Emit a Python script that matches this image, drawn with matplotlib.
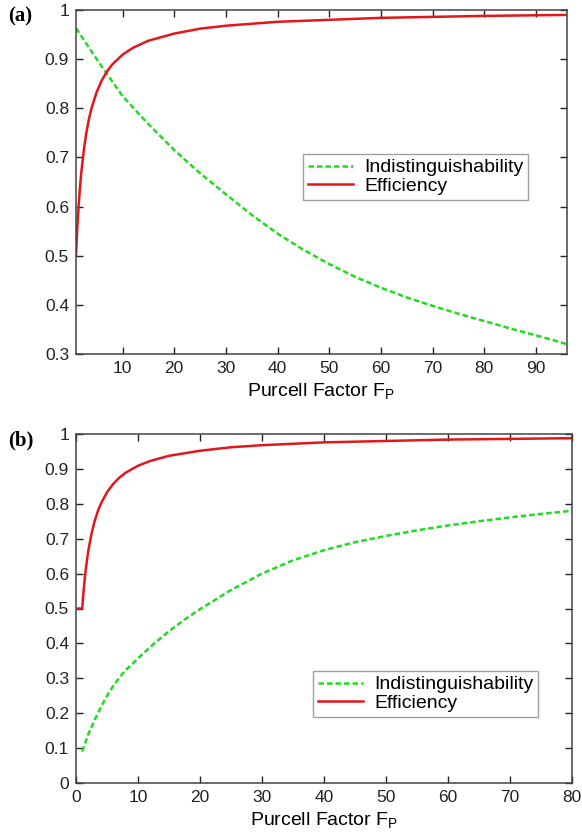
import numpy as np
import matplotlib
matplotlib.use("Agg")
import matplotlib.pyplot as plt

plt.rcParams['font.family'] = ['Liberation Sans', 'DejaVu Sans']
plt.rcParams['mathtext.fontset'] = 'custom'
plt.rcParams['mathtext.rm'] = 'Liberation Sans'

# panel (a)
fp_eff_a = [1, 1.25, 1.5, 1.75, 2, 2.5, 3, 3.5, 4, 5, 6, 7, 8, 10, 12, 15, 20, 25, 30, 40, 50, 60, 70, 80, 96]
eff_a = [0.5, 0.556, 0.6, 0.636, 0.667, 0.714, 0.75, 0.778, 0.8, 0.833, 0.857, 0.875, 0.889, 0.909,
         0.923, 0.9375, 0.952, 0.962, 0.968, 0.976, 0.980, 0.984, 0.986, 0.988, 0.990]
fp_ind_a = [1, 5, 10, 15, 20, 25, 30, 35, 40, 45, 50, 55, 60, 65, 70, 75, 80, 85, 90, 96]
ind_a = [0.963, 0.9, 0.825, 0.768, 0.715, 0.668, 0.625, 0.583, 0.545, 0.512, 0.483, 0.457, 0.435,
         0.415, 0.398, 0.382, 0.367, 0.352, 0.338, 0.32]

# panel (b)
fp_eff_b = [0.3, 1, 1.25, 1.5, 1.75, 2, 2.5, 3, 3.5, 4, 5, 6, 7, 8, 10, 12, 15, 20, 25, 30, 40, 50, 60, 70, 80]
eff_b = [0.5, 0.5, 0.556, 0.6, 0.636, 0.667, 0.714, 0.75, 0.778, 0.8, 0.833, 0.857, 0.875, 0.889, 0.909,
         0.923, 0.9375, 0.952, 0.962, 0.968, 0.976, 0.980, 0.984, 0.986, 0.988]
fp_ind_b = [1, 2, 3, 4, 5, 6, 7, 8, 10, 12.5, 15, 17.5, 20, 25, 30, 35, 40, 45, 50, 55, 60, 65, 70, 75, 80]
ind_b = [0.09, 0.14, 0.18, 0.217, 0.25, 0.278, 0.302, 0.323, 0.357, 0.398, 0.435, 0.468, 0.498, 0.553,
         0.6, 0.638, 0.667, 0.69, 0.708, 0.724, 0.738, 0.75, 0.761, 0.771, 0.78]

green = '#1fdc1f'
red = '#e3171b'

fig = plt.figure(figsize=(5.82, 8.33), dpi=100)
ax1 = fig.add_axes([76/582, 1 - 354/833, 491/582, 344/833])
ax2 = fig.add_axes([76/582, 1 - 783/833, 496/582, 349/833])

def style(ax):
    ax.tick_params(direction='in', top=True, right=True, length=5, width=1,
                   labelsize=12.5, colors='#222222', pad=5)
    for s in ax.spines.values():
        s.set_color('#444444')
        s.set_linewidth(1.1)
    ax.set_xlabel(r'Purcell Factor F$_\mathregular{P}$', fontsize=14, labelpad=4)

ax1.plot(fp_ind_a, ind_a, color=green, ls=(0, (2.2, 1.2)), lw=1.8, label='Indistinguishability')
ax1.plot(fp_eff_a, eff_a, color=red, lw=1.8, label='Efficiency')
ax1.set_xlim(1, 96)
ax1.set_ylim(0.3, 1)
ax1.set_xticks(range(10, 100, 10))
ax1.set_yticks(np.arange(0.3, 1.01, 0.1))
ax1.set_yticklabels(['0.3', '0.4', '0.5', '0.6', '0.7', '0.8', '0.9', '1'])
style(ax1)

ax2.plot(fp_ind_b, ind_b, color=green, ls=(0, (2.2, 1.2)), lw=1.8, label='Indistinguishability')
ax2.plot(fp_eff_b, eff_b, color=red, lw=1.8, label='Efficiency')
ax2.set_xlim(0, 80)
ax2.set_ylim(0, 1)
ax2.set_xticks(range(0, 90, 10))
ax2.set_yticks(np.arange(0, 1.01, 0.1))
ax2.set_yticklabels(['0', '0.1', '0.2', '0.3', '0.4', '0.5', '0.6', '0.7', '0.8', '0.9', '1'])
style(ax2)

for ax, (x0, y0) in [(ax1, (303, 154)), (ax2, (313, 671))]:
    leg = ax.legend(loc='upper left', bbox_to_anchor=(x0/582, 1 - y0/833),
                    bbox_transform=fig.transFigure, fontsize=14, frameon=True,
                    fancybox=False, handlelength=2.3, handletextpad=0.6,
                    borderpad=0.25, labelspacing=0.05, borderaxespad=0)
    leg.get_frame().set_edgecolor('#888888')
    leg.get_frame().set_linewidth(1.0)

fig.text(8/582, 1 - 16/833, '(a)', fontsize=15, fontweight='bold',
         family='Liberation Serif', va='center', ha='left')
fig.text(8/582, 1 - 440/833, '(b)', fontsize=15, fontweight='bold',
         family='Liberation Serif', va='center', ha='left')

fig.savefig('out.png', dpi=100)
